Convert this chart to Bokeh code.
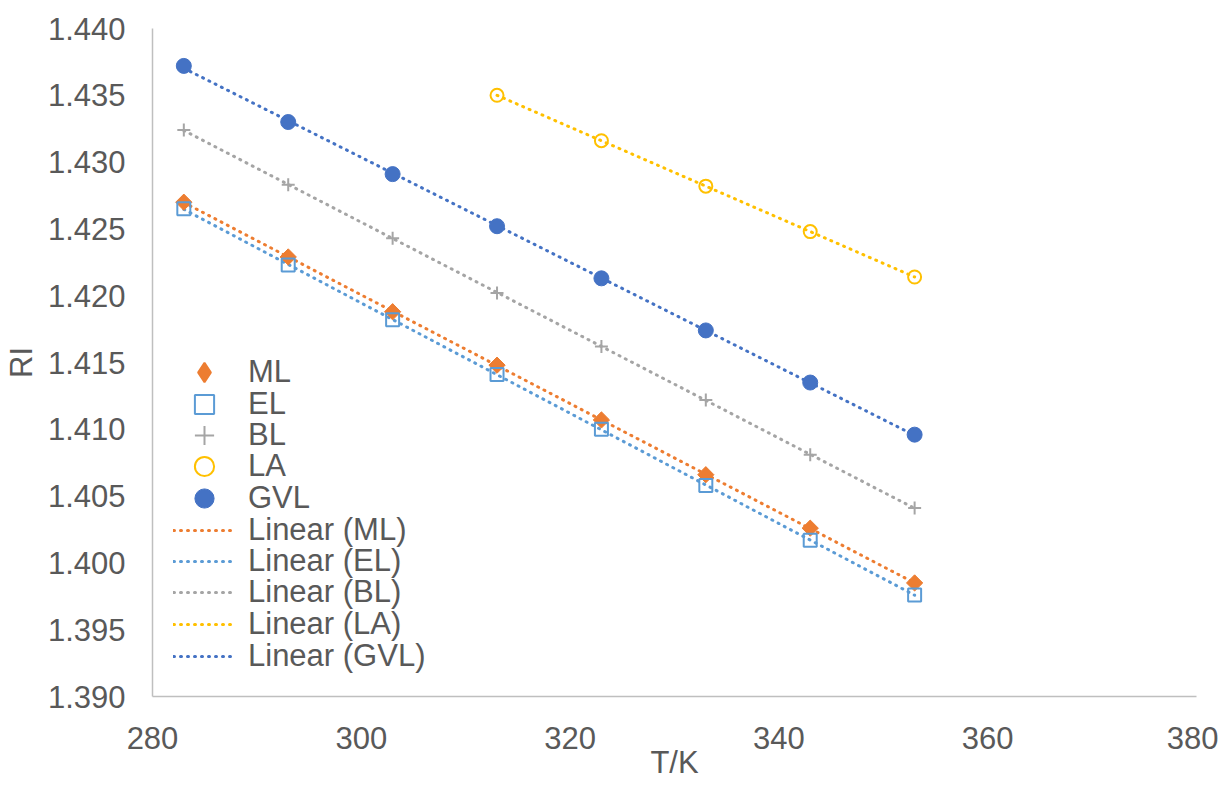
import numpy as np
from bokeh.plotting import figure
from bokeh.models import Legend, LegendItem, FixedTicker, NumeralTickFormatter, Range1d
from bokeh.embed import file_html
from bokeh.resources import INLINE

# ---- data ----
T_all = [283, 293, 303, 313, 323, 333, 343, 353]
T_LA = [313, 323, 333, 343, 353]
ML = [1.4270, 1.4229, 1.4188, 1.4148, 1.4107, 1.4066, 1.4026, 1.3985]
EL = [1.4265, 1.4223, 1.4182, 1.4141, 1.4100, 1.4058, 1.4017, 1.3976]
BL = [1.4324, 1.4283, 1.4243, 1.4202, 1.4162, 1.4122, 1.4081, 1.4041]
LA = [1.4350, 1.4316, 1.4282, 1.4248, 1.4214]
GVL = [1.4372, 1.4330, 1.4291, 1.4252, 1.4213, 1.4174, 1.4135, 1.4096]
x_ticks = [280, 300, 320, 340, 360, 380]
y_ticks = [1.390, 1.395, 1.400, 1.405, 1.410, 1.415, 1.420, 1.425, 1.430, 1.435, 1.440]
x_title = "T/K"
y_title = "RI"

FONT = "Liberation Sans"
TXT = "#595959"
FS = "31px"

p = figure(width=1218, height=785, output_backend="svg", toolbar_location=None,
           x_range=Range1d(280, 380), y_range=Range1d(1.390, 1.440),
           min_border_left=152, min_border_top=28, min_border_right=22, min_border_bottom=89)
p.outline_line_color = None
p.xgrid.visible = False
p.ygrid.visible = False
for ax in (p.xaxis[0], p.yaxis[0]):
    ax.axis_line_color = "#BFBFBF"
    ax.axis_line_width = 1.5
    ax.major_tick_line_color = None
    ax.minor_tick_line_color = None
    ax.major_label_text_font = FONT
    ax.major_label_text_font_size = FS
    ax.major_label_text_color = TXT
    ax.axis_label_text_font = FONT
    ax.axis_label_text_font_size = FS
    ax.axis_label_text_color = TXT
    ax.axis_label_text_font_style = "normal"
p.xaxis.ticker = FixedTicker(ticks=x_ticks)
p.yaxis.ticker = FixedTicker(ticks=y_ticks)
p.yaxis.formatter = NumeralTickFormatter(format="0.000")
p.xaxis.axis_label = x_title
p.yaxis.axis_label = y_title
p.xaxis.major_label_standoff = 24
p.xaxis.axis_label_standoff = -7
p.yaxis.major_label_standoff = 21
p.yaxis.axis_label_standoff = 6

C_ML, C_EL, C_BL, C_LA, C_GVL = "#ED7D31", "#5B9BD5", "#A5A5A5", "#FFC000", "#4472C4"

series = [("ML", T_all, ML, C_ML), ("EL", T_all, EL, C_EL), ("BL", T_all, BL, C_BL),
          ("LA", T_LA, LA, C_LA), ("GVL", T_all, GVL, C_GVL)]

trend = {}
for name, xs, ys, c in series:
    k, b = np.polyfit(xs, ys, 1)
    xe = np.array([xs[0], xs[-1]], dtype=float)
    trend[name] = p.line(xe, k * xe + b, line_color=c, line_width=3, line_dash="1 6",
                         line_cap="round")

mk = {}
p.scatter(T_all, ML, marker="square", angle=np.pi / 4, size=11.5,
          fill_color=C_ML, line_color=C_ML, line_width=1)
# zero-size twin, used only for the legend swatch (diamond)
mk["ML"] = p.scatter(T_all, ML, marker="diamond", size=0, fill_color=C_ML, line_color=C_ML,
                     line_width=2)
mk["EL"] = p.scatter(T_all, EL, marker="square", size=13, fill_color="white", fill_alpha=0,
                     line_color=C_EL, line_width=2)
mk["BL"] = p.scatter(T_all, BL, marker="cross", size=13, line_color=C_BL, line_width=2)
mk["LA"] = p.scatter(T_LA, LA, marker="circle", size=13, fill_alpha=0,
                     line_color=C_LA, line_width=2)
mk["GVL"] = p.scatter(T_all, GVL, marker="circle", size=15, fill_color=C_GVL, line_color=C_GVL)

names = ["ML", "EL", "BL", "LA", "GVL"]
entries = [(n, mk[n]) for n in names] + [("Linear (%s)" % n, trend[n]) for n in names]

# one single-row legend per entry so the rows can sit 31.5px apart
FRAME_BOTTOM = 785 - 89
ROW0, STEP, ROW_H = 372, 31.5, 48
for i, (lab, rend) in enumerate(entries):
    yc = ROW0 + i * STEP
    lg = Legend(items=[LegendItem(label=lab, renderers=[rend])],
                location=(21, int(round(FRAME_BOTTOM - yc - ROW_H / 2))),
                padding=0, margin=0, spacing=0,
                border_line_color=None, background_fill_alpha=0,
                glyph_width=62, glyph_height=ROW_H, label_height=31, label_standoff=13,
                label_text_font=FONT, label_text_font_size=FS, label_text_color=TXT)
    p.add_layout(lg)

open("out.html", "w").write(file_html(p, INLINE))
